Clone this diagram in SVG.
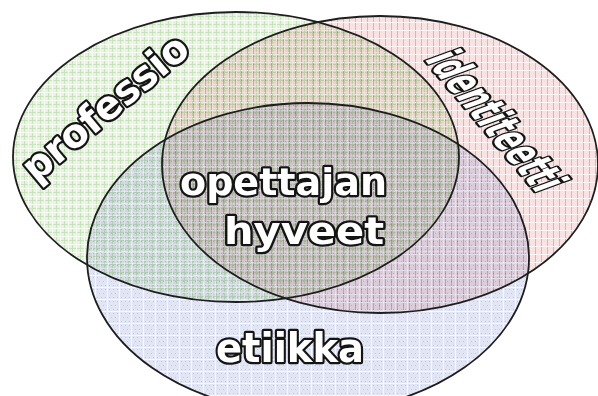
<svg xmlns="http://www.w3.org/2000/svg" width="598" height="396" viewBox="0 0 598 396">
  <style>
    .area { mix-blend-mode: multiply; opacity: 0.78; }
    .rim { fill: none; stroke: #1e1e1e; stroke-width: 1.8; }
    .lbl {
      font-family: "DejaVu Sans", Verdana, "Liberation Sans", sans-serif;
      font-weight: bold;
      fill: #ffffff;
      stroke: #141414;
      stroke-width: 4.5;
      stroke-linejoin: round;
      paint-order: stroke;
    }
  </style>
  <defs>
    <!-- green check texture -->
    <pattern id="texGreen" width="8" height="8" patternUnits="userSpaceOnUse">
      <rect width="8" height="8" fill="#dff0d6"/>
      <path d="M0 0.5H8M0.5 0V8" stroke="#b9dca8" stroke-width="1"/>
      <path d="M0 4.5H8M4.5 0V8" stroke="#f6fbf3" stroke-width="1"/>
    </pattern>
    <!-- red pinstripe texture -->
    <pattern id="texRed" width="6" height="8" patternUnits="userSpaceOnUse">
      <rect width="6" height="8" fill="#f8dada"/>
      <path d="M1.5 0V8" stroke="#e99494" stroke-width="1"/>
      <path d="M0 6.5H6" stroke="#fef4f4" stroke-width="1"/>
    </pattern>
    <!-- blue dotted texture -->
    <pattern id="texBlue" width="12" height="12" patternUnits="userSpaceOnUse">
      <rect width="12" height="12" fill="#dadeF1"/>
      <path d="M1 1h1v1h-1zM5 1h1v1h-1zM9 1h1v1h-1zM3 5h1v1h-1zM7 5h1v1h-1zM11 5h1v1h-1zM1 9h1v1h-1zM5 9h1v1h-1zM9 9h1v1h-1z" fill="#b2b8de"/>
      <path d="M0 11.5H12M11.5 0V12" stroke="#f5f6fc" stroke-width="1"/>
    </pattern>
  </defs>

  <rect width="598" height="396" fill="#ffffff"/>

  <g id="professio">
    <ellipse class="area" cx="236" cy="157" rx="223" ry="145" fill="url(#texGreen)"/>
  </g>
  <g id="identiteetti">
    <ellipse class="area" cx="380" cy="164.5" rx="218" ry="148.5" fill="url(#texRed)"/>
  </g>
  <g id="etiikka">
    <ellipse class="area" cx="308" cy="258" rx="221" ry="155" fill="url(#texBlue)"/>
  </g>

  <!-- outlines on top of all fills -->
  <g id="outlines">
    <ellipse class="rim" cx="236" cy="157" rx="223" ry="145"/>
    <ellipse class="rim" cx="380" cy="164.5" rx="218" ry="148.5"/>
    <ellipse class="rim" cx="308" cy="258" rx="221" ry="155"/>
  </g>

  <g id="labels">
    <text class="lbl" font-size="40" text-anchor="middle" textLength="204" lengthAdjust="spacingAndGlyphs" transform="translate(114 118) rotate(-40)">professio</text>
    <text class="lbl" font-size="46" textLength="176" lengthAdjust="spacingAndGlyphs" transform="translate(424 59) rotate(50) skewX(-20)">identiteetti</text>
    <text class="lbl" font-size="40" x="216" y="362" textLength="148" lengthAdjust="spacingAndGlyphs">etiikka</text>
  </g>

  <g id="opettajan-hyveet">
    <text class="lbl" font-size="38" x="180" y="195" textLength="207" lengthAdjust="spacingAndGlyphs">opettajan</text>
    <text class="lbl" font-size="38" x="224" y="244" textLength="160" lengthAdjust="spacingAndGlyphs">hyveet</text>
  </g>
</svg>
